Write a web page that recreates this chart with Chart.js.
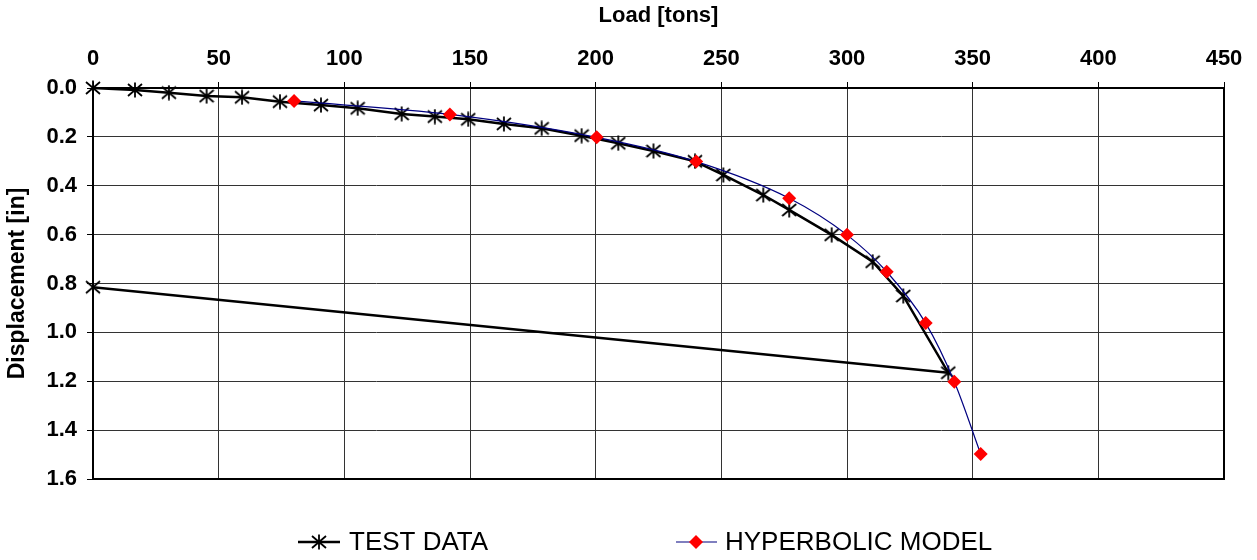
<!DOCTYPE html>
<html>
<head>
<meta charset="utf-8">
<script src="https://cdn.jsdelivr.net/npm/chart.js@4/dist/chart.umd.min.js"></script>
<style>
  html, body { margin: 0; padding: 0; background: #fff; }
  #wrap { width: 1257px; height: 560px; position: relative; }
</style>
</head>
<body>
<div id="wrap"><canvas id="c" width="1257" height="560"></canvas></div>
<script>
// ---- data ----
const testLoad = [0, 16.7, 30.2, 45.2, 59.3, 74.4, 90.7, 105.3, 122.8, 136, 149.3, 163.5, 178.5, 194.4, 209, 223, 239.5, 250.8, 266.7, 277, 293.9, 310.2, 322.4, 340.3, 0];
const testDisp = [0, 0.008, 0.019, 0.033, 0.038, 0.056, 0.070, 0.083, 0.106, 0.117, 0.128, 0.147, 0.165, 0.195, 0.226, 0.258, 0.300, 0.356, 0.438, 0.499, 0.601, 0.711, 0.851, 1.165, 0.815];
const hypLoad = [80, 142, 200.4, 240, 277, 300, 315.8, 331.3, 342.7, 353.2];
const hypDisp = [0.053, 0.108, 0.202, 0.301, 0.451, 0.601, 0.752, 0.962, 1.202, 1.498];
const xTicks = [0, 50, 100, 150, 200, 250, 300, 350, 400, 450];
const yTicks = [0.0, 0.2, 0.4, 0.6, 0.8, 1.0, 1.2, 1.4, 1.6];
const seriesNames = ['TEST DATA', 'HYPERBOLIC MODEL'];
const axisTitles = { x: 'Load [tons]', y: 'Displacement [in]' };

// asterisk marker (X + vertical bar)
function makeStar(size) {
  const cv = document.createElement('canvas');
  cv.width = size; cv.height = size;
  const g = cv.getContext('2d');
  const h = size / 2;
  g.strokeStyle = '#000';
  g.lineWidth = 1.8;
  g.beginPath();
  g.moveTo(h, 0.5); g.lineTo(h, size - 0.5);
  g.moveTo(1, 2); g.lineTo(size - 1, size - 2);
  g.moveTo(size - 1, 2); g.lineTo(1, size - 2);
  g.stroke();
  return cv;
}
const starImg = makeStar(16);

const toPts = (xs, ys) => xs.map((x, i) => ({ x: x, y: ys[i] }));

const frame = {
  id: 'frame',
  beforeDatasetsDraw(chart) {
    const a = chart.chartArea, ctx = chart.ctx;
    ctx.save();
    ctx.strokeStyle = '#000';
    ctx.lineWidth = 2;
    ctx.strokeRect(a.left, a.top, a.right - a.left, a.bottom - a.top);
    ctx.restore();
  }
};

const legendPlugin = {
  id: 'customLegend',
  afterDraw(chart) {
    const ctx = chart.ctx;
    ctx.save();
    ctx.font = '26px "Liberation Sans", Arial, sans-serif';
    ctx.fillStyle = '#000';
    ctx.textBaseline = 'middle';
    let y = 542;
    ctx.strokeStyle = '#000'; ctx.lineWidth = 2.5;
    ctx.beginPath(); ctx.moveTo(298, y); ctx.lineTo(340, y); ctx.stroke();
    ctx.drawImage(starImg, 319 - 8, y - 8);
    ctx.fillText(seriesNames[0], 349, y + 1);
    ctx.strokeStyle = '#000080'; ctx.lineWidth = 1.2;
    ctx.beginPath(); ctx.moveTo(676, y); ctx.lineTo(717, y); ctx.stroke();
    ctx.fillStyle = '#ff0000';
    ctx.beginPath();
    ctx.moveTo(696, y - 7); ctx.lineTo(703, y); ctx.lineTo(696, y + 7); ctx.lineTo(689, y);
    ctx.closePath(); ctx.fill();
    ctx.fillStyle = '#000';
    ctx.fillText(seriesNames[1], 725, y + 1);
    ctx.restore();
  }
};

const tickFont = { family: '"Liberation Sans", Arial, sans-serif', size: 22, weight: 'bold' };
const titleFont = { family: '"Liberation Sans", Arial, sans-serif', size: 22, weight: 'bold' };
const yTitleFont = { family: '"Liberation Sans", Arial, sans-serif', size: 23, weight: 'bold' };

new Chart(document.getElementById('c'), {
  type: 'scatter',
  data: {
    datasets: [
      {
        label: seriesNames[0],
        data: toPts(testLoad, testDisp),
        showLine: true,
        borderColor: '#000',
        borderWidth: 2.5,
        tension: 0,
        pointStyle: starImg,
        pointRadius: 8,
        clip: false,
        order: 2
      },
      {
        label: seriesNames[1],
        data: toPts(hypLoad, hypDisp),
        showLine: true,
        borderColor: '#000080',
        borderWidth: 1.2,
        cubicInterpolationMode: 'monotone',
        pointStyle: 'rectRot',
        pointRadius: 7,
        pointBackgroundColor: '#ff0000',
        pointBorderColor: '#ff0000',
        pointBorderWidth: 0,
        clip: false,
        order: 1
      }
    ]
  },
  options: {
    responsive: false,
    animation: false,
    events: [],
    layout: { padding: { left: 0, top: 0, right: 33, bottom: 81 } },
    plugins: { legend: { display: false }, tooltip: { enabled: false } },
    scales: {
      x: {
        type: 'linear',
        position: 'top',
        min: 0, max: 450,
        afterBuildTicks(s) { s.ticks = xTicks.map(v => ({ value: v })); },
        afterFit(s) { s.height = 88; },
        ticks: { font: tickFont, color: '#000', padding: 10, maxRotation: 0 },
        grid: { color: '#333', lineWidth: 1, tickLength: 6, tickColor: '#000' },
        border: { display: true, color: '#000', width: 2 },
        title: { display: true, text: axisTitles.x, font: titleFont, color: '#000', padding: { top: 3, bottom: 0 } }
      },
      y: {
        type: 'linear',
        reverse: true,
        min: 0, max: 1.6,
        afterBuildTicks(s) { s.ticks = yTicks.map(v => ({ value: v })); },
        afterFit(s) { s.width = 93; },
        ticks: { font: tickFont, color: '#000', padding: 10, callback: v => Number(v).toFixed(1) },
        grid: { color: '#333', lineWidth: 1, tickLength: 6, tickColor: '#000' },
        border: { display: true, color: '#000', width: 2 },
        title: { display: true, text: axisTitles.y, font: yTitleFont, color: '#000', padding: { top: 4, bottom: 0 } }
      }
    }
  },
  plugins: [frame, legendPlugin]
});
</script>
</body>
</html>
